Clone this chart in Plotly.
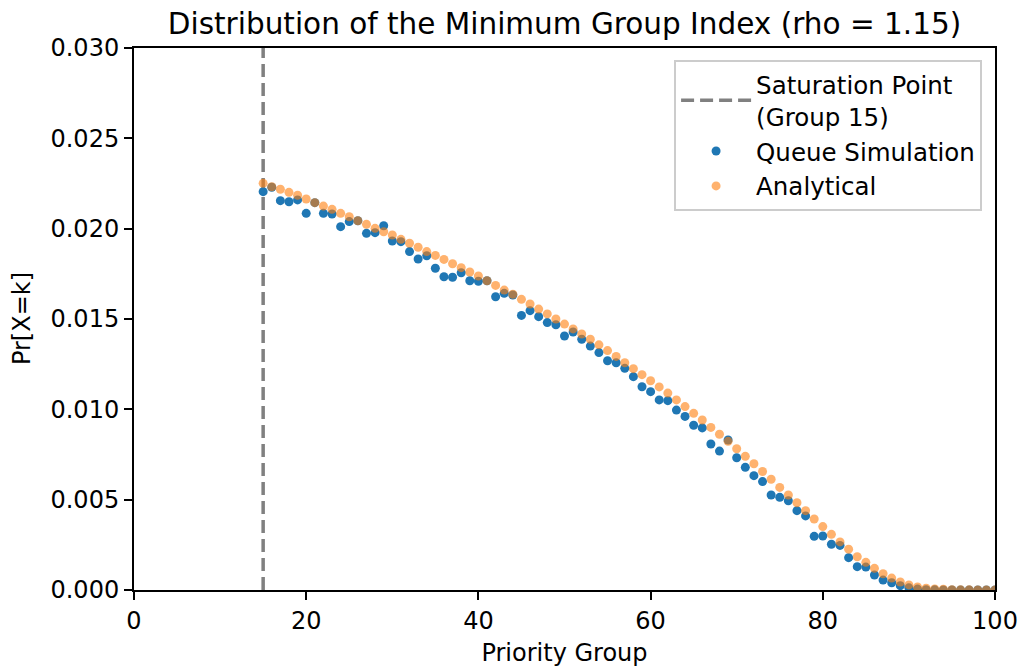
import plotly.graph_objects as go

# Priority groups from the saturation point to the last group
groups = list(range(15, 101))

# Simulated probability of each group being the minimum index
queue_sim = [
    0.02205, 0.02229, 0.02155, 0.02149, 0.02159, 0.02085, 0.02144, 0.02085, 0.02081, 0.02011,  # 15-24
    0.02039, 0.02044, 0.01974, 0.01978, 0.02016, 0.01932, 0.01928, 0.01873, 0.01832, 0.01850,  # 25-34
    0.01781, 0.01734, 0.01731, 0.01756, 0.01712, 0.01709, 0.01712, 0.01623, 0.01642, 0.01633,  # 35-44
    0.01520, 0.01546, 0.01513, 0.01480, 0.01468, 0.01406, 0.01428, 0.01388, 0.01350, 0.01314,  # 45-54
    0.01269, 0.01258, 0.01227, 0.01181, 0.01125, 0.01098, 0.01052, 0.01048, 0.00996, 0.00961,  # 55-64
    0.00912, 0.00897, 0.00808, 0.00769, 0.00830, 0.00732, 0.00679, 0.00633, 0.00600, 0.00526,  # 65-74
    0.00513, 0.00494, 0.00439, 0.00410, 0.00297, 0.00299, 0.00253, 0.00247, 0.00179, 0.00129,  # 75-84
    0.00127, 0.00083, 0.00055, 0.00040, 0.00024, 0.00012, 0.00005, 0.00002, 0.00001, 0.0,      # 85-94
    0.0, 0.0, 0.0, 0.0, 0.0, 0.0,                                                              # 95-100
]

# Analytical probability of each group
analytical = [
    0.02251, 0.02232, 0.02218, 0.02201, 0.02185, 0.02164, 0.02144, 0.02125, 0.02107, 0.02085,  # 15-24
    0.02066, 0.02044, 0.02024, 0.02002, 0.01983, 0.01965, 0.01941, 0.01919, 0.01897, 0.01873,  # 25-34
    0.01852, 0.01830, 0.01806, 0.01784, 0.01760, 0.01738, 0.01712, 0.01686, 0.01660, 0.01637,  # 35-44
    0.01609, 0.01583, 0.01555, 0.01528, 0.01500, 0.01472, 0.01445, 0.01417, 0.01388, 0.01357,  # 45-54
    0.01325, 0.01293, 0.01258, 0.01225, 0.01192, 0.01158, 0.01124, 0.01090, 0.01052, 0.01015,  # 55-64
    0.00978, 0.00941, 0.00900, 0.00862, 0.00823, 0.00782, 0.00740, 0.00699, 0.00656, 0.00613,  # 65-74
    0.00568, 0.00526, 0.00483, 0.00439, 0.00393, 0.00351, 0.00308, 0.00266, 0.00226, 0.00184,  # 75-84
    0.00153, 0.00120, 0.00090, 0.00066, 0.00044, 0.00028, 0.00017, 0.00010, 0.00006, 0.00004,  # 85-94
    0.00002, 0.00001, 0.00001, 0.0, 0.0, 0.0,                                                  # 95-100
]

saturation_group = 15
x_ticks = [0, 20, 40, 60, 80, 100]
y_ticks = [0.0, 0.005, 0.010, 0.015, 0.020, 0.025, 0.030]

font = "DejaVu Sans, Liberation Sans, sans-serif"
text_size = 24

fig = go.Figure()

fig.add_trace(go.Scatter(
    x=[saturation_group, saturation_group], y=[y_ticks[0], y_ticks[-1]],
    mode="lines",
    line=dict(color="#808080", width=3.5, dash="13px,6px"),
    name="Saturation Point<br>(Group 15)",
))

fig.add_trace(go.Scatter(
    x=groups, y=queue_sim, mode="markers",
    marker=dict(color="#1f77b4", size=9, line=dict(width=0)),
    name="Queue Simulation",
))

fig.add_trace(go.Scatter(
    x=groups, y=analytical, mode="markers",
    marker=dict(color="#ff7f0e", size=9, opacity=0.6, line=dict(width=0)),
    name="Analytical",
))

axis_common = dict(
    showline=True, linecolor="black", linewidth=2, mirror=True,
    ticks="outside", ticklen=8, tickwidth=2, tickcolor="black",
    showgrid=False, zeroline=False, automargin=False,
    tickfont=dict(family=font, size=text_size, color="black"),
)

fig.update_xaxes(
    range=[0, 100], tickvals=x_ticks,
    title=dict(text="Priority Group", font=dict(family=font, size=text_size, color="black"), standoff=10),
    **axis_common,
)
fig.update_yaxes(
    range=[0, 0.030], tickvals=y_ticks, tickformat=".3f",
    **axis_common,
)

# Vertical y-axis label placed just left of the tick labels
fig.add_annotation(
    text="Pr[X=k]", textangle=-90, showarrow=False,
    xref="paper", yref="paper", x=-0.130, y=0.5, xanchor="center", yanchor="middle",
    font=dict(family=font, size=text_size, color="black"),
)

fig.update_layout(
    width=1024, height=671,
    margin=dict(l=134, r=29, t=48, b=81, autoexpand=False),
    paper_bgcolor="white", plot_bgcolor="white",
    title=dict(
        text="Distribution of the Minimum Group Index (rho = 1.15)",
        x=0.5, xref="paper", xanchor="center", y=1 - 24 / 671, yanchor="middle",
        font=dict(family=font, size=29.5, color="black"),
    ),
    legend=dict(
        x=0.985, y=0.978, xanchor="right", yanchor="top",
        bgcolor="rgba(255,255,255,0.85)", bordercolor="#cccccc", borderwidth=2,
        font=dict(family=font, size=24.5, color="black"),
        itemwidth=70, tracegroupgap=0,
    ),
    showlegend=True,
)

fig.write_html("out.html")
